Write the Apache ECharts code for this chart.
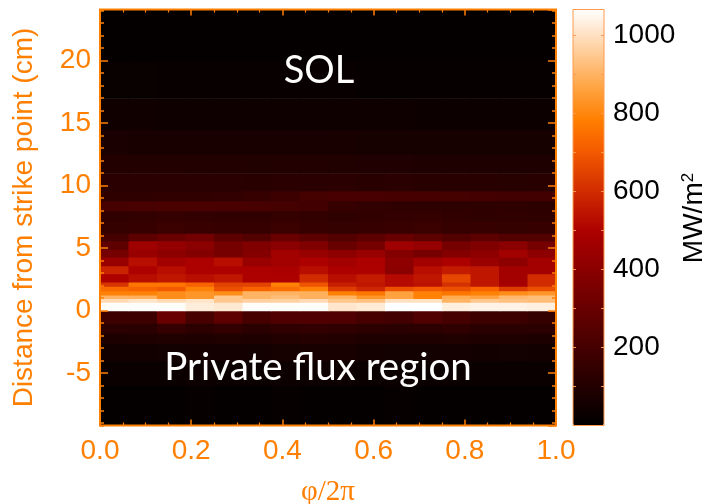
<!DOCTYPE html>
<html>
<head>
<meta charset="utf-8">
<script src="https://cdn.jsdelivr.net/npm/echarts@6/dist/echarts.min.js"></script>
<style>
  html, body { margin: 0; padding: 0; background: #ffffff; }
  #chart { width: 711px; height: 504px; }
</style>
</head>
<body>
<div id="chart"></div>
<script>
// Toroidal bins (phi / 2pi) and radial bands (cm from the strike point)
const phiEdges = [0, 0.0625, 0.125, 0.1875, 0.25, 0.3125, 0.375, 0.4375, 0.5,
                  0.5625, 0.625, 0.6875, 0.75, 0.8125, 0.875, 0.9375, 1];
const distEdges = [-9.2, -6, -4, -2.6, -1.8, -1.0, 0.0, 0.68, 0.97, 1.26, 1.6, 1.96,
                   2.3, 2.95, 3.6, 4.3, 4.9, 5.6, 6.2, 7.2, 8.0, 8.8, 9.6, 11.0,
                   12.5, 14.5, 17, 20, 24.1];

// Heat flux (MW/m^2), one array per radial band, one value per toroidal bin
const band_m92_m60 = [15, 15, 15, 18, 15, 15, 18, 15, 15, 15, 18, 15, 15, 15, 15, 15];
const band_m60_m40 = [30, 30, 32, 35, 32, 30, 35, 38, 35, 32, 30, 30, 32, 30, 30, 30];
const band_m40_m26 = [50, 50, 55, 60, 58, 55, 65, 70, 68, 60, 55, 55, 58, 50, 55, 50];
const band_m26_m18 = [80, 85, 95, 90, 95, 85, 100, 105, 100, 90, 85, 90, 95, 85, 85, 80];
const band_m18_m10 = [120, 125, 150, 130, 145, 125, 140, 145, 140, 130, 120, 130, 140, 125, 125, 120];
const band_m10_000 = [173, 173, 300, 202, 270, 202, 231, 231, 231, 202, 190, 231, 202, 173, 173, 150];
const band_000_068 = [1060, 1060, 1060, 1027, 1017, 1060, 1060, 1060, 1010, 1020, 1065, 1065, 1030, 1040, 1040, 1030];
const band_068_097 = [985, 1006, 985, 1006, 942, 964, 964, 985, 940, 930, 1000, 1000, 900, 942, 930, 921];
const band_097_126 = [900, 891, 814, 835, 942, 900, 920, 891, 900, 835, 860, 788, 880, 860, 910, 921];
const band_126_160 = [788, 788, 814, 835, 814, 900, 900, 891, 788, 766, 860, 788, 766, 788, 814, 835];
const band_160_196 = [740, 722, 700, 788, 678, 722, 743, 788, 634, 589, 678, 700, 678, 722, 634, 678];
const band_196_230 = [620, 766, 766, 722, 650, 650, 788, 690, 570, 550, 520, 540, 610, 550, 480, 600];
const band_230_295 = [500, 530, 550, 530, 550, 500, 500, 600, 530, 560, 520, 550, 660, 550, 470, 600];
const band_295_360 = [580, 500, 530, 500, 500, 500, 490, 530, 500, 500, 400, 530, 560, 550, 470, 470];
const band_360_430 = [440, 530, 470, 500, 530, 440, 470, 500, 470, 500, 410, 470, 500, 440, 410, 470];
const band_430_490 = [340, 440, 410, 380, 340, 380, 470, 440, 410, 440, 380, 340, 380, 410, 470, 410];
const band_490_560 = [270, 460, 430, 400, 340, 370, 400, 370, 300, 340, 460, 430, 340, 370, 400, 340];
const band_560_620 = [200, 265, 300, 330, 265, 235, 300, 265, 235, 265, 300, 265, 235, 265, 235, 235];
const band_620_720 = [150, 160, 170, 165, 160, 155, 170, 160, 150, 160, 165, 170, 155, 160, 150, 155];
const band_720_800 = [140, 145, 150, 145, 140, 140, 150, 145, 135, 140, 145, 150, 140, 135, 140, 135];
const band_800_880 = [205, 210, 215, 215, 215, 210, 200, 190, 160, 145, 140, 135, 135, 135, 135, 130];
const band_880_960 = [135, 135, 138, 140, 145, 155, 175, 200, 210, 210, 205, 205, 200, 195, 190, 190];
const band_960_1100 = [125, 122, 120, 122, 120, 118, 120, 122, 120, 118, 120, 115, 116, 114, 112, 114];
const band_1100_1250 = [102, 102, 100, 98, 98, 95, 98, 98, 95, 93, 93, 90, 90, 88, 88, 88];
const band_1250_1450 = [75, 72, 72, 70, 70, 68, 70, 70, 68, 66, 65, 65, 64, 62, 62, 62];
const band_1450_1700 = [45, 45, 44, 43, 42, 42, 42, 42, 40, 40, 40, 38, 38, 38, 36, 36];
const band_1700_2000 = [25, 25, 24, 24, 23, 23, 22, 22, 22, 21, 21, 20, 20, 20, 20, 20];
const band_2000_2410 = [12, 12, 12, 12, 12, 12, 12, 12, 12, 12, 12, 12, 12, 12, 12, 12];

const fluxBands = [
  band_m92_m60, band_m60_m40, band_m40_m26, band_m26_m18, band_m18_m10, band_m10_000,
  band_000_068, band_068_097, band_097_126, band_126_160, band_160_196, band_196_230,
  band_230_295, band_295_360, band_360_430, band_430_490, band_490_560, band_560_620,
  band_620_720, band_720_800, band_800_880, band_880_960, band_960_1100, band_1100_1250,
  band_1250_1450, band_1450_1700, band_1700_2000, band_2000_2410
];

const fluxMin = 0;
const fluxMax = 1065;
const phiTicks = [0, 0.2, 0.4, 0.6, 0.8, 1.0];

// Red-temperature palette, black -> red -> orange -> white
const redTemp = ['#000000', '#190000', '#310000', '#4a0000', '#630000', '#7b0000',
                 '#940000', '#ac0000', '#c51e00', '#de3e00', '#f65e00', '#ff7e00',
                 '#ff9e37', '#ffbe7a', '#ffdebc', '#ffffff'];

const ORANGE = '#ff7f00';
const SANS = 'Liberation Sans, Arial, sans-serif';

// One cell per (phi bin, radial band): [phi0, phi1, d0, d1, q]
const cells = [];
fluxBands.forEach((band, j) => {
  band.forEach((q, i) => {
    cells.push([phiEdges[i], phiEdges[i + 1], distEdges[j], distEdges[j + 1], q]);
  });
});

const dMin = distEdges[0];
const dMax = distEdges[distEdges.length - 1];

function tickAxisY(position, splitNumber, len, labels) {
  return {
    type: 'value', gridIndex: 0, position: position,
    min: dMin, max: dMax, splitNumber: splitNumber, z: 6,
    axisLine: { show: false, onZero: false },
    splitLine: { show: false },
    axisTick: { show: true, inside: true, length: len, lineStyle: { color: ORANGE, width: 1.5 } },
    axisLabel: labels ? {
      show: true, color: ORANGE, fontSize: 28, fontFamily: SANS, margin: 9,
      showMinLabel: false, showMaxLabel: false,
      formatter: v => (Math.abs(v / 5 - Math.round(v / 5)) < 1e-6 ? String(Math.round(v)) : '')
    } : { show: false }
  };
}

function phiAxis(position, labels) {
  return {
    type: 'value', gridIndex: 0, position: position,
    min: 0, max: 1, interval: 0.2, z: 6,
    axisLine: { show: false, onZero: false },
    splitLine: { show: false },
    axisTick: { show: true, inside: true, length: 6, lineStyle: { color: ORANGE, width: 1.5 } },
    minorTick: { show: true, splitNumber: 4, length: 3, lineStyle: { color: ORANGE, width: 1.2 } },
    axisLabel: labels ? {
      show: true, color: ORANGE, fontSize: 28, fontFamily: SANS, margin: 12,
      formatter: v => (phiTicks.some(t => Math.abs(t - v) < 1e-9) ? v.toFixed(1) : '')
    } : { show: false }
  };
}

function barAxis(position, labels) {
  return {
    type: 'value', gridIndex: 1, position: position,
    min: fluxMin, max: fluxMax, interval: 100, z: 6,
    axisLine: { show: false, onZero: false },
    splitLine: { show: false },
    axisTick: { show: true, inside: true, length: 3, lineStyle: { color: '#ff9a4d', width: 1 } },
    axisLabel: labels ? {
      show: true, color: '#000000', fontSize: 28, fontFamily: SANS, margin: 9,
      formatter: v => (v > 0 && v % 200 === 0 ? String(v) : '')
    } : { show: false }
  };
}

const xBottom = phiAxis('bottom', true);
xBottom.name = 'φ/2π';
xBottom.nameLocation = 'middle';
xBottom.nameGap = 52;
xBottom.nameTextStyle = { color: ORANGE, fontSize: 29, fontFamily: 'Liberation Serif, Times New Roman, serif' };

const yLeft = tickAxisY('left', 6, 8, true);
yLeft.name = 'Distance from strike point (cm)';
yLeft.nameLocation = 'middle';
yLeft.nameGap = 62;
yLeft.nameTextStyle = { color: ORANGE, fontSize: 28, fontFamily: SANS };

const chart = echarts.init(document.getElementById('chart'), null, { renderer: 'canvas' });

chart.setOption({
  animation: false,
  backgroundColor: '#ffffff',
  grid: [
    { left: 100, top: 9.5, width: 456, height: 416, show: true, z: 10,
      outerBoundsMode: 'none', containLabel: false,
      backgroundColor: 'transparent', borderColor: ORANGE, borderWidth: 2 },
    { left: 573, top: 9.5, width: 31, height: 416, show: true, z: 10,
      outerBoundsMode: 'none', containLabel: false,
      backgroundColor: 'transparent', borderColor: '#ff9a4d', borderWidth: 1 }
  ],
  xAxis: [
    xBottom,
    phiAxis('top', false),
    { type: 'value', gridIndex: 1, min: 0, max: 1, show: false }
  ],
  yAxis: [
    yLeft,
    tickAxisY('left', 33, 4, false),
    tickAxisY('right', 6, 8, false),
    tickAxisY('right', 33, 4, false),
    barAxis('left', false),
    barAxis('right', true)
  ],
  visualMap: [{
    type: 'continuous', seriesIndex: 0, dimension: 4,
    min: fluxMin, max: fluxMax, calculable: false, hoverLink: false,
    left: 573, top: 9.5, itemWidth: 31, itemHeight: 416, padding: 0,
    inRange: { color: redTemp }
  }],
  series: [{
    type: 'custom',
    xAxisIndex: 0, yAxisIndex: 0,
    clip: true,
    encode: { x: [0, 1], y: [2, 3] },
    data: cells,
    renderItem: (params, api) => {
      const a = api.coord([api.value(0), api.value(3)]);
      const b = api.coord([api.value(1), api.value(2)]);
      return {
        type: 'rect',
        shape: { x: a[0], y: a[1], width: b[0] - a[0] + 0.6, height: b[1] - a[1] + 0.6 },
        style: { fill: api.visual('color') }
      };
    }
  }],
  graphic: [
    { type: 'text', x: 319, y: 71, z: 20,
      style: { text: 'SOL', fill: '#ffffff', font: '38px Lato', align: 'center', verticalAlign: 'middle' } },
    { type: 'text', x: 318, y: 368, z: 20,
      style: { text: 'Private flux region', fill: '#ffffff', font: '38.5px Lato', align: 'center', verticalAlign: 'middle' } },
    { type: 'text', x: 694, y: 218, z: 20, rotation: Math.PI / 2,
      style: {
        text: 'MW/m{s|2}', fill: '#000000', font: '28px Liberation Sans',
        align: 'center', verticalAlign: 'middle',
        rich: { s: { fontSize: 17, fontFamily: 'Liberation Sans', fill: '#000000', verticalAlign: 'top' } }
      } }
  ]
});
</script>
</body>
</html>
